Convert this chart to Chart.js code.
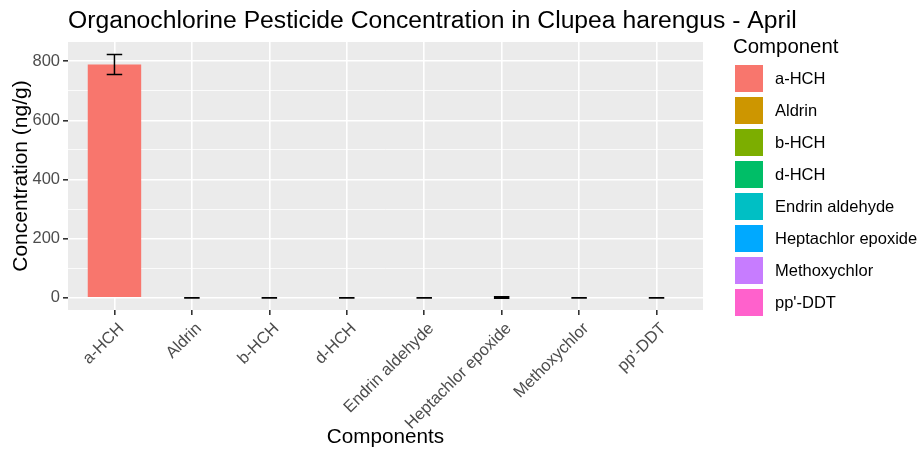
<!DOCTYPE html>
<html>
<head>
<meta charset="utf-8">
<script src="https://cdn.jsdelivr.net/npm/chart.js@4"></script>
<style>
  html, body { margin: 0; padding: 0; background: #fff; }
</style>
</head>
<body>
<canvas id="chart" width="923" height="451"></canvas>
<script>
const components = ['a-HCH', 'Aldrin', 'b-HCH', 'd-HCH', 'Endrin aldehyde', 'Heptachlor epoxide', 'Methoxychlor', "pp'-DDT"];
const concentrations = [789, 0.2, 0.15, 0.2, 0.15, 1.2, 0.2, 0.15];
const errors = [34, 0.5, 0.5, 0.5, 0.5, 2.5, 0.5, 0.5];
const colors = ['#F8766D', '#CD9600', '#7CAE00', '#00BE67', '#00BFC4', '#00A9FF', '#C77CFF', '#FF61CC'];
const yTickLabels = [0, 200, 400, 600, 800];
const yGridValues = [0, 100, 200, 300, 400, 500, 600, 700, 800];

const FONT = '"Liberation Sans", Arial, sans-serif';

// grey panel behind the grid
const panelBg = {
  id: 'panelBg',
  beforeDraw(chart) {
    const a = chart.chartArea, ctx = chart.ctx;
    ctx.save();
    ctx.fillStyle = '#EBEBEB';
    ctx.fillRect(a.left, a.top, a.right - a.left, a.bottom - a.top);
    ctx.restore();
  }
};

// error bars, placed through the scales
const errorBars = {
  id: 'errorBars',
  afterDatasetsDraw(chart) {
    const x = chart.scales.x, y = chart.scales.y, ctx = chart.ctx;
    const half = (x.getPixelForValue(0.1) - x.getPixelForValue(0));
    ctx.save();
    ctx.strokeStyle = '#000';
    ctx.lineWidth = 1.5;
    concentrations.forEach((v, i) => {
      const px = x.getPixelForValue(i);
      const top = y.getPixelForValue(v + errors[i]);
      const bot = y.getPixelForValue(v - errors[i]);
      ctx.beginPath();
      ctx.moveTo(px, top); ctx.lineTo(px, bot);
      ctx.moveTo(px - half, top); ctx.lineTo(px + half, top);
      ctx.moveTo(px - half, bot); ctx.lineTo(px + half, bot);
      ctx.stroke();
    });
    ctx.restore();
  }
};

// plot title (left aligned to the panel) and the fill legend
const titleAndLegend = {
  id: 'titleAndLegend',
  afterDraw(chart) {
    const ctx = chart.ctx, a = chart.chartArea;
    ctx.save();
    ctx.fillStyle = '#000';
    ctx.textBaseline = 'alphabetic';
    ctx.textAlign = 'left';
    ctx.font = '24.7px ' + FONT;
    ctx.fillText('Organochlorine Pesticide Concentration in Clupea harengus - April', a.left, 28);

    ctx.font = '20.4px ' + FONT;
    ctx.fillText('Component', 733, 53);
    ctx.font = '16.5px ' + FONT;
    ctx.textBaseline = 'middle';
    components.forEach((c, i) => {
      const top = 65 + i * 32;
      ctx.fillStyle = colors[i];
      ctx.fillRect(735, top, 28, 27);
      ctx.fillStyle = '#000';
      ctx.fillText(c, 775, top + 14);
    });
    ctx.restore();
  }
};

const isMajor = c => c.tick && yTickLabels.includes(c.tick.value);

new Chart(document.getElementById('chart'), {
  type: 'bar',
  data: {
    datasets: [{
      label: 'Component',
      data: concentrations.map((v, i) => ({ x: i, y: v })),
      // bars thinner than a pixel vanish in the original, so don't let them tint the zero line
      backgroundColor: c => concentrations[c.dataIndex] < 5 ? 'rgba(0,0,0,0)' : colors[c.dataIndex],
      inflateAmount: 0,
      barPercentage: 0.69,
      categoryPercentage: 1
    }]
  },
  options: {
    responsive: false,
    animation: false,
    layout: { padding: { left: 0, top: 42, right: 220, bottom: 0 } },
    plugins: {
      legend: { display: false },
      tooltip: { enabled: false }
    },
    scales: {
      x: {
        type: 'linear',
        min: -0.6,
        max: 7.6,
        offset: false,
        border: { display: false },
        grid: { offset: false, color: '#FFFFFF', lineWidth: 1.6, tickColor: '#333333', tickLength: 5 },
        afterBuildTicks: s => { s.ticks = components.map((c, i) => ({ value: i })); },
        ticks: {
          autoSkip: false,
          maxRotation: 45,
          minRotation: 45,
          padding: 4,
          labelOffset: 7,
          color: '#4D4D4D',
          font: { family: FONT, size: 16.5 },
          callback: v => components[v] ?? ''
        },
        title: {
          display: true,
          text: 'Components',
          color: '#000',
          font: { family: FONT, size: 20.7 },
          padding: { top: 0, bottom: 1 }
        },
        afterFit: s => { s.height = 141; }
      },
      y: {
        min: -41,
        max: 865,
        border: { display: false },
        grid: {
          color: '#FFFFFF',
          lineWidth: c => isMajor(c) ? 1.6 : 0.8,
          tickColor: c => isMajor(c) ? '#333333' : 'rgba(0,0,0,0)',
          tickLength: 5
        },
        afterBuildTicks: s => { s.ticks = yGridValues.map(v => ({ value: v })); },
        ticks: {
          autoSkip: false,
          padding: 3,
          color: '#4D4D4D',
          font: { family: FONT, size: 16.5 },
          callback: v => yTickLabels.includes(v) ? String(v) : ''
        },
        title: {
          display: true,
          text: 'Concentration (ng/g)',
          color: '#000',
          font: { family: FONT, size: 21 },
          padding: { top: 9, bottom: 0 }
        },
        afterFit: s => { s.width = 68; }
      }
    }
  },
  plugins: [panelBg, errorBars, titleAndLegend]
});
</script>
</body>
</html>
